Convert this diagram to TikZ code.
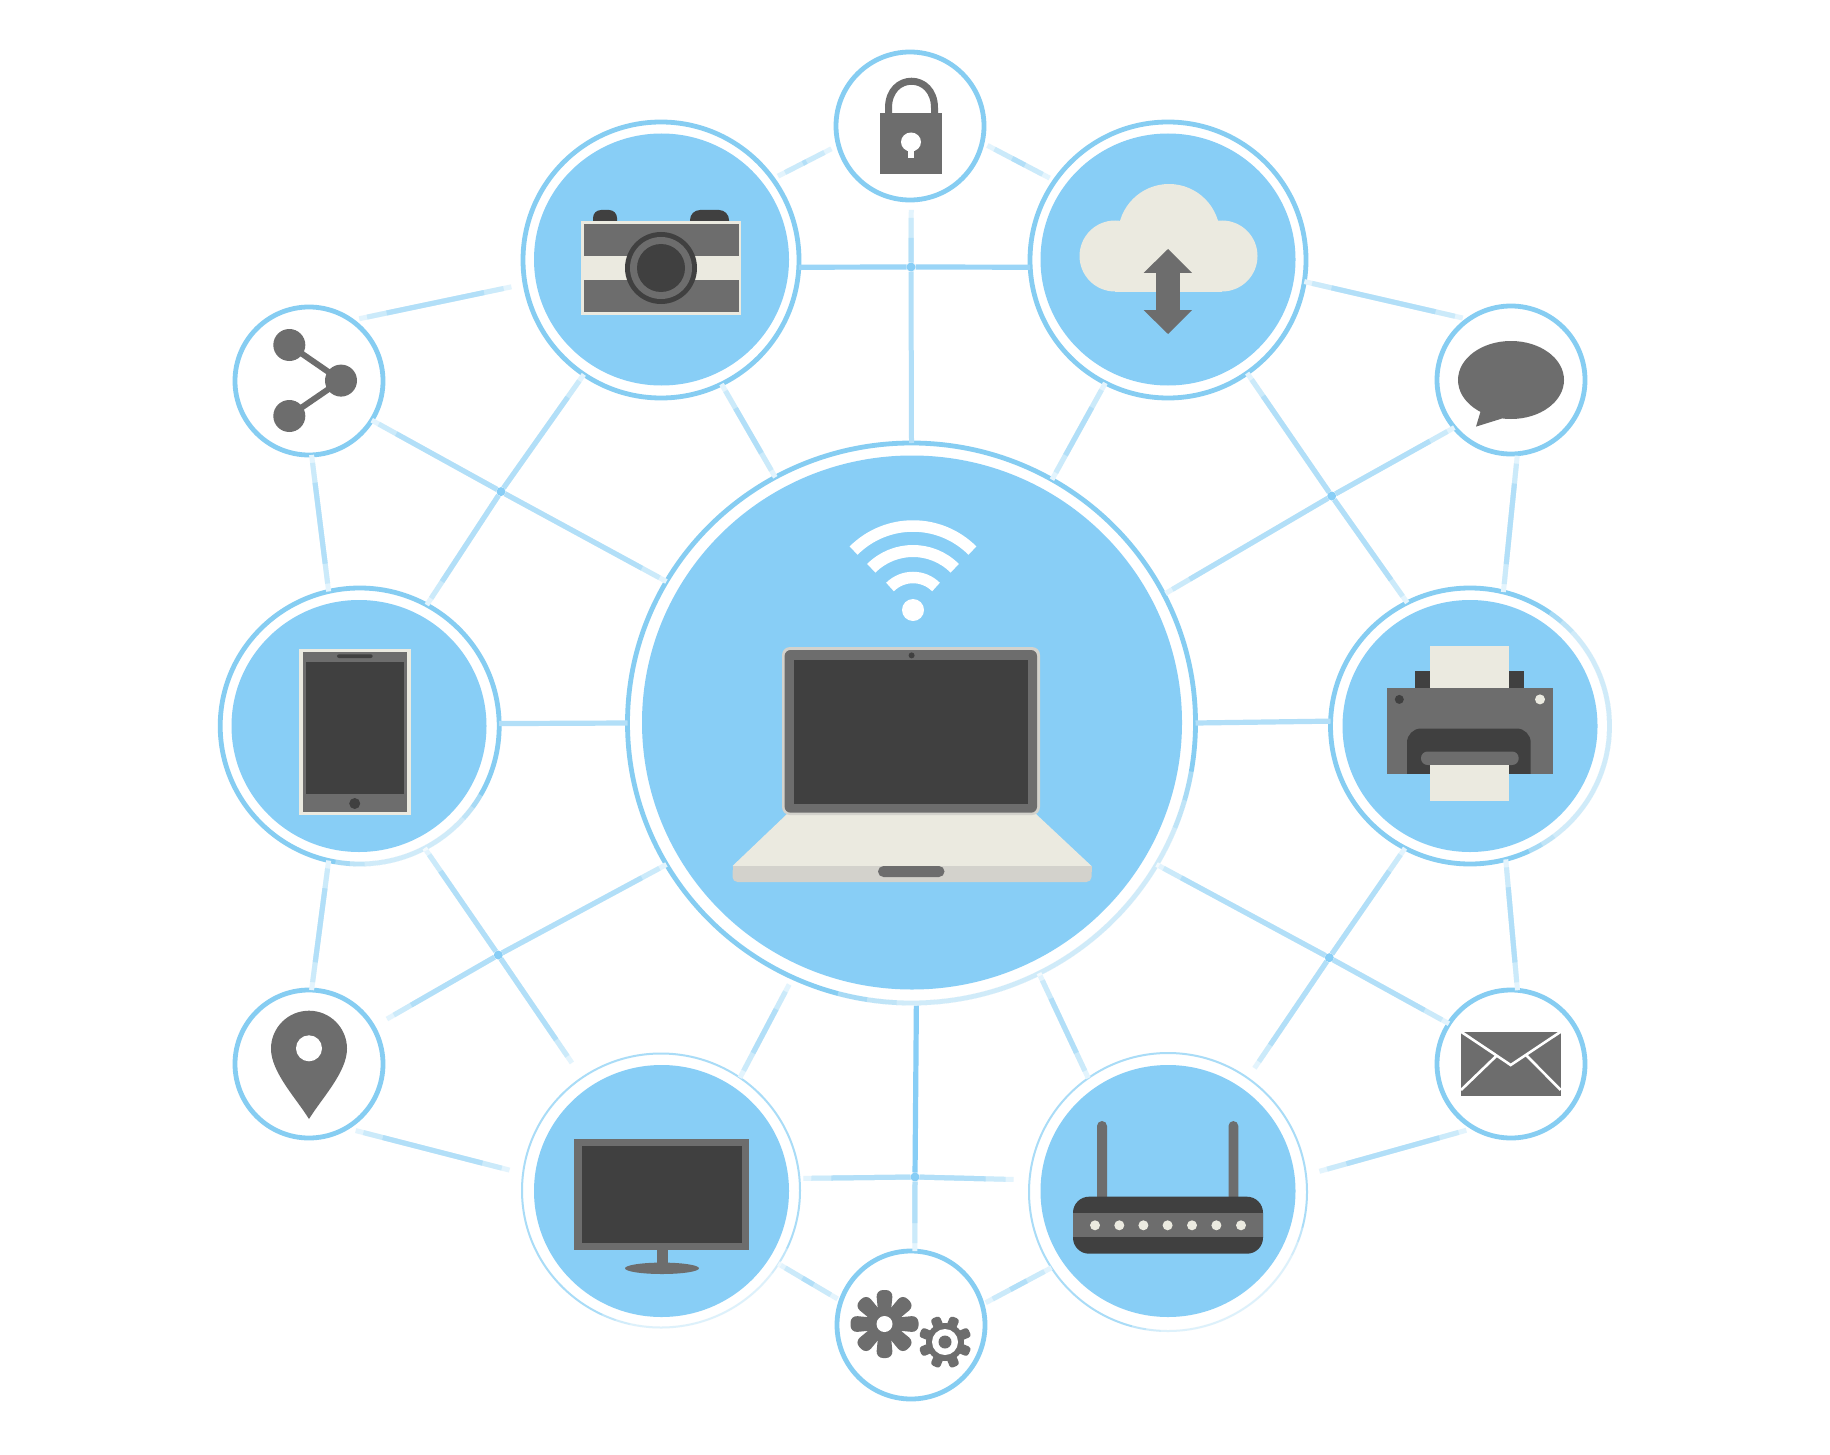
\documentclass[tikz,border=0pt]{standalone}
\usetikzlibrary{shapes.geometric}
\definecolor{sky}{HTML}{88CEF6}
\definecolor{ringc}{HTML}{86CDF2}
\definecolor{ringp}{HTML}{A9DCF7}
\definecolor{gr}{HTML}{6D6D6D}
\definecolor{dk}{HTML}{404040}
\definecolor{cr}{HTML}{EBEAE0}
\definecolor{fr}{HTML}{D3D2CC}
\definecolor{lp}{HTML}{E3F4FD}
\definecolor{lm}{HTML}{CBEAFA}
\definecolor{ld}{HTML}{B2DFF8}
\tikzset{
 ringo/.style={ellipse,draw=ringc,fill=white,line width=2.4pt,inner sep=0pt,outer sep=0pt},
 thin ringo/.style={ringo,draw=ringp,line width=1pt},
 big/.style={minimum width=138pt,minimum height=138pt},
 small/.style={minimum width=74pt,minimum height=74pt},
 hubdot/.style={circle,fill=sky,inner sep=0pt,outer sep=0pt,minimum size=4.5pt},
 conn/.style 2 args={draw=lp,line width=2.5pt,shorten <=#1,shorten >=#2,
   postaction={draw=lm,shorten <=#1+4pt,shorten >=#2+4pt},
   postaction={draw=ld,shorten <=#1+14pt,shorten >=#2+14pt}},
 connh/.style 2 args={draw=lp,line width=2.5pt,shorten <=#1,shorten >=#2,
   postaction={draw=lm,shorten <=#1+4pt,shorten >=#2},
   postaction={draw=ld,shorten <=#1+14pt,shorten >=#2}},
 wash/.style={white,opacity=.28,line width=2.8pt},
}
\newcommand{\washarc}[6]{\draw[wash] ({#1+#3*cos(#5)},{#2+#4*sin(#5)}) arc [start angle=#5,end angle=#6,x radius=#3,y radius=#4];}
\newcommand{\washsoft}[6]{\washarc{#1}{#2}{#3}{#4}{#5}{#6}
  \washarc{#1}{#2}{#3}{#4}{#5+6}{#6-6}
  \washarc{#1}{#2}{#3}{#4}{#5+12}{#6-12}}
\begin{document}
\begin{tikzpicture}[x=0.5pt,y=-0.5pt]
\useasboundingbox[fill=white] (0,0) rectangle (1830,1455);
% ring nodes
\node[ringo,minimum width=284pt,minimum height=280pt] (hub) at (911.5,723) {};
\node[ringo,big] (cam) at (661,260) {};
\node[ringo,big] (cloud) at (1168,260) {};
\node[ringo,minimum width=139.5pt,minimum height=138pt] (tab) at (359.7,726) {};
\node[ringo,minimum width=139.5pt,minimum height=138pt] (prn) at (1470,726) {};
\node[thin ringo,big,minimum width=139pt,minimum height=137pt] (mon) at (661,1190.5) {};
\node[thin ringo,big,minimum width=139pt,minimum height=139pt] (rtr) at (1168,1192) {};
\node[ringo,small] (lock) at (910,126) {};
\node[ringo,small] (gear) at (911,1325) {};
\node[ringo,small] (share) at (309,381) {};
\node[ringo,small] (chat) at (1511,380) {};
\node[ringo,small] (pin) at (309,1064) {};
\node[ringo,small] (mail) at (1511,1064) {};
% junctions
\node[hubdot] (jt) at (911,267) {};
\node[hubdot] (jb) at (915,1177) {};
\node[hubdot] (jlt) at (501,491.6) {};
\node[hubdot] (jrt) at (1331.7,496) {};
\node[hubdot] (jlb) at (498.3,955) {};
\node[hubdot] (jrb) at (1329.3,957.7) {};
% connectors
\draw[conn={4pt}{3pt}] (lock.195) -- (cam.36);
\draw[conn={3pt}{3pt}] (lock.347) -- (cloud.145.5);
\draw[connh={5pt}{0pt}] (lock.-89) -- (jt);
\draw[draw=ld,line width=2.5pt] (hub.north) -- (jt);
\draw[draw=sky!85!white,line width=2.6pt] (cam.-3) -- (jt);
\draw[draw=sky!85!white,line width=2.6pt] (cloud.183) -- (jt);
\draw[conn={0pt}{0pt}] (cam.-64) -- (hub.119);
\draw[conn={0pt}{0pt}] (cloud.243) -- (hub.60.2);
\draw[connh={0pt}{0pt}] (cloud.-55) -- (jrt);
\draw[connh={0pt}{0pt}] (prn.117.5) -- (jrt);
\draw[connh={1pt}{0pt}] (hub.27.9) -- (jrt);
\draw[connh={0pt}{0pt}] (chat.220) -- (jrt);
\draw[conn={0pt}{3pt}] (cloud.-9) -- (chat.125);
\draw[conn={1pt}{0pt}] (chat.-85) -- (prn.76.5);
\draw[conn={4pt}{7pt}] (share.55) -- (cam.190);
\draw[conn={0pt}{0pt}] (share.-88) -- (tab.103.5);
\draw[connh={0pt}{0pt}] (share.-32.5) -- (jlt);
\draw[connh={0pt}{0pt}] (hub.150.5) -- (jlt);
\draw[connh={0pt}{0pt}] (tab.61.8) -- (jlt);
\draw[connh={0pt}{0pt}] (cam.236.5) -- (jlt);
\draw[draw=ld,line width=2.6pt] (tab.1.7) -- (hub.180);
\draw[draw=ld,line width=2.6pt] (hub.0) -- (prn.178.3);
\draw[connh={0pt}{0pt}] (tab.-62) -- (jlb);
\draw[connh={9pt}{0pt}] (mon.125) -- (jlb);
\draw[connh={0pt}{0pt}] (hub.210.5) -- (jlb);
\draw[connh={8pt}{0pt}] (pin.30) -- (jlb);
\draw[conn={0pt}{0pt}] (tab.-103) -- (pin.88);
\draw[conn={5pt}{7pt}] (pin.-60) -- (mon.173);
\draw[draw=sky,line width=2.6pt] (hub.-89.4) -- (jb);
\draw[connh={0pt}{0pt}] (gear.87) -- (jb);
\draw[connh={2pt}{0pt}] (mon.5) -- (jb);
\draw[connh={8pt}{0pt}] (rtr.175) -- (jb);
\draw[conn={4pt}{0pt}] (hub.-115.5) -- (mon.55.6);
\draw[conn={0pt}{0pt}] (hub.-63.4) -- (rtr.125);
\draw[connh={6pt}{0pt}] (rtr.55.5) -- (jrb);
\draw[connh={0pt}{0pt}] (prn.-118) -- (jrb);
\draw[connh={0pt}{0pt}] (hub.-30) -- (jrb);
\draw[connh={0pt}{0pt}] (mail.147) -- (jrb);
\draw[conn={0pt}{0pt}] (prn.-75.6) -- (mail.85);
\draw[conn={4pt}{7pt}] (mail.240) -- (rtr.7);
\draw[conn={0pt}{2pt}] (mon.-32.7) -- (gear.161);
\draw[conn={0pt}{2pt}] (rtr.213) -- (gear.16);
% disks
\fill[sky] (912,722.5) ellipse [x radius=270,y radius=267];
\fill[sky] (661.5,259.5) ellipse [x radius=127.5,y radius=126];
\fill[sky] (1168,259.5) ellipse [x radius=127.5,y radius=126];
\fill[sky] (359,726) ellipse [x radius=127.5,y radius=126];
\fill[sky] (1470,726) ellipse [x radius=127.5,y radius=126];
\fill[sky] (661.5,1191) ellipse [x radius=127.5,y radius=126];
\fill[sky] (1168,1191) ellipse [x radius=127.5,y radius=126];
% pale washes on rings
\washsoft{911.5}{723}{284}{280}{10}{105}
\washsoft{661}{1190.5}{139}{137}{25}{115}
\washsoft{1168}{1192}{139}{139}{15}{105}
\washsoft{1470}{726}{139.5}{138}{-55}{65}
\washsoft{359.7}{726}{139.5}{138}{30}{100}
% laptop
\fill[cr] (787,814) -- (1036,814) -- (1091.5,866) -- (732.5,866) -- cycle;
\fill[fr,rounded corners=2.5pt] (732.5,866) -- (1091.5,866) -- (1091.5,882) -- (732.5,882) -- cycle;
\fill[fr] (732.5,866) rectangle (1091.5,872);
\fill[gr,rounded corners=2.75pt] (878,866) rectangle (944.5,877);
\fill[fr,rounded corners=4pt] (782,647) rectangle (1040,815);
\fill[gr,rounded corners=3pt] (784.6,650) rectangle (1037,812.7);
\fill[dk] (794,660) rectangle (1027.6,803.5);
\fill[dk] (911.6,655.4) circle [radius=3];
% wifi
\fill[white] (913,610) circle [radius=11];
\draw[white,line width=5.75pt] ({913+84*cos(225)},{610+84*sin(225)}) arc [start angle=225,end angle=315,radius=84];
\draw[white,line width=6pt] ({913+59*cos(225)},{610+59*sin(225)}) arc [start angle=225,end angle=315,radius=59];
\draw[white,line width=5.75pt] ({913+32.5*cos(225)},{610+32.5*sin(225)}) arc [start angle=225,end angle=315,radius=32.5];
% camera
\fill[dk,rounded corners=4pt] (593,210) rectangle (617,235);
\fill[dk,rounded corners=5pt] (690,210) rectangle (729,235);
\fill[cr] (581,221) rectangle (741,315);
\fill[gr] (584,224) rectangle (739,256);
\fill[gr] (584,280) rectangle (739,312);
\fill[dk] (661,268) circle [radius=36];
\fill[gr] (661,268) circle [radius=31];
\fill[dk] (661,268) circle [radius=24];
% cloud
\fill[cr] (1115,256) circle [radius=35.5];
\fill[cr] (1222,256) circle [radius=35.5];
\fill[cr] (1169,235) circle [radius=51];
\fill[cr] (1115,225) rectangle (1222,291.5);
\fill[gr] (1168,249) -- (1192,273) -- (1143.5,273) -- cycle;
\fill[gr] (1155.5,273) rectangle (1180,310);
\fill[gr] (1168,334) -- (1192,310) -- (1143.5,310) -- cycle;
% lock
\draw[gr,line width=3.5pt] (888.5,114) -- (888.5,108) .. controls (888.5,72.3) and (934.5,72.3) .. (934.5,108) -- (934.5,114);
\fill[gr] (880,113) rectangle (942,174);
\fill[white] (911,142) ellipse [x radius=10,y radius=9.5];
\fill[white] (908,146) rectangle (914,158);
% share
\draw[gr,line width=3pt] (289.3,345) -- (341,380.6) -- (289.3,416);
\fill[gr] (289.3,345) circle [radius=16];
\fill[gr] (341,380.6) circle [radius=16];
\fill[gr] (289.3,416) circle [radius=16];
% chat
\fill[gr] (1511,380) ellipse [x radius=53,y radius=39];
\fill[gr] (1481,410) -- (1476,426.6) -- (1502,418.5) -- cycle;
% tablet
\fill[cr] (299,649) rectangle (410.7,815);
\fill[gr] (302.7,652) rectangle (407,812);
\fill[dk] (306,661.5) rectangle (404,794);
\fill[dk,rounded corners=1pt] (337,654.3) rectangle (372.7,658);
\fill[dk] (354.7,803.5) circle [radius=5.5];
% printer
\fill[dk] (1415,671) rectangle (1524,688);
\fill[cr] (1430,646) rectangle (1509,688);
\fill[gr] (1386.7,687.6) rectangle (1552.7,774);
\fill[dk,rounded corners=7pt] (1407,728.5) -- (1530.7,728.5) -- (1530.7,790) -- (1407,790) -- cycle;
\fill[sky] (1400,774) rectangle (1540,795);
\fill[gr,rounded corners=3.3pt] (1421,751.5) rectangle (1518.7,765);
\fill[cr] (1430,765) rectangle (1509,801);
\fill[dk] (1399.3,699.4) circle [radius=4.5];
\fill[cr] (1540,699.4) circle [radius=5];
% monitor
\fill[gr] (657,1250) rectangle (668.4,1264);
\fill[gr] (662,1268.3) ellipse [x radius=37,y radius=5.7];
\fill[gr] (574,1139) rectangle (748.5,1250.3);
\fill[dk] (582,1146) rectangle (742,1243);
% router
\fill[gr,rounded corners=2.5pt] (1097,1121) rectangle (1107,1205);
\fill[gr,rounded corners=2.5pt] (1228.5,1121) rectangle (1238.3,1205);
\fill[dk,rounded corners=8pt] (1073,1196.7) rectangle (1263,1253.7);
\fill[gr] (1073,1213) rectangle (1263,1236.7);
\foreach \x in {1095,1119.3,1143.4,1167.6,1192,1216.4,1241}
  \fill[cr] (\x,1225.3) circle [radius=5];
% gears
\foreach \a in {0,45,...,315}
  \fill[gr,rotate around={\a:(884.5,1324)},rounded corners=3.5pt] (892,1318) -- (918.5,1315.5) -- (918.5,1332.5) -- (892,1330) -- cycle;
\fill[gr] (884.5,1324) circle [radius=18];
\fill[white] (884.5,1324) circle [radius=8];
\foreach \a in {22.5,67.5,...,337.5}
  \fill[gr,rotate around={\a:(945,1342)},rounded corners=1.5pt] (960,1337) rectangle (971.5,1347);
\fill[gr] (945,1342) circle [radius=19];
\fill[white] (945,1342) circle [radius=13];
\fill[gr] (945,1342) circle [radius=6.5];
% pin
\fill[gr] (309,1119) .. controls (296,1098) and (271,1072) .. (271,1048.7) .. controls (271,1027.7) and (288,1010.7) .. (309,1010.7) .. controls (330,1010.7) and (347,1027.7) .. (347,1048.7) .. controls (347,1072) and (322,1098) .. (309,1119) -- cycle;
\fill[white] (309,1048.3) circle [radius=13];
% mail
\fill[gr] (1461,1031.7) rectangle (1560.7,1096);
\draw[white,line width=1.3pt] (1461,1031.7) -- (1510.7,1065) -- (1560.7,1031.7);
\draw[white,line width=1.3pt] (1461,1090) -- (1497.3,1055);
\draw[white,line width=1.3pt] (1560.7,1090) -- (1526,1055);
\end{tikzpicture}
\end{document}
